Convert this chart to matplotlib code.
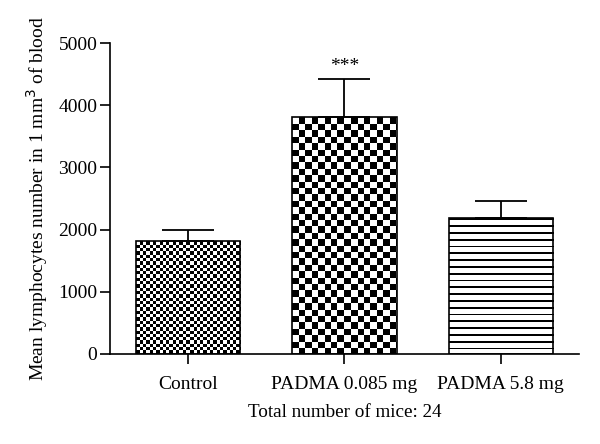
import matplotlib
matplotlib.use("Agg")
import matplotlib.pyplot as plt
import numpy as np

# data
groups = ["Control", "PADMA 0.085 mg", "PADMA 5.8 mg"]
means = [1817, 3810, 2186]
upper_err = [177, 611, 274]
stars = ["", "***", ""]
y_ticks = [0, 1000, 2000, 3000, 4000, 5000]

plt.rcParams["font.family"] = ["Liberation Serif", "DejaVu Serif"]
plt.rcParams["font.size"] = 14

fig = plt.figure(figsize=(6, 4.44), dpi=100)
ax = fig.add_axes([0.183, 0.203, 0.782, 0.700])

x = np.arange(len(groups))
bar_width = 0.667
bars = ax.bar(x, means, bar_width, color="white", edgecolor="black",
              linewidth=1.2, zorder=2)
ax.errorbar(x, means, yerr=[[0] * len(means), upper_err], fmt="none",
            ecolor="black", elinewidth=1.3, capsize=19, capthick=1.3, zorder=3)

for xi, m, e, s in zip(x, means, upper_err, stars):
    if s:
        ax.text(xi, m + e + 70, s, ha="center", va="bottom", fontsize=14)

ax.set_xlim(-0.5, 2.5)
ax.set_ylim(0, 5000)
ax.set_yticks(y_ticks)
ax.set_xticks(x)
ax.set_xticklabels(groups)
ax.set_ylabel("Mean lymphocytes number in 1 mm$^3$ of blood", fontsize=14, labelpad=6)
ax.set_xlabel("Total number of mice: 24", fontsize=13.8, labelpad=8)
ax.spines["top"].set_visible(False)
ax.spines["right"].set_visible(False)
ax.spines["left"].set_linewidth(1.2)
ax.spines["bottom"].set_linewidth(1.2)
ax.tick_params(axis="y", length=7, width=1.2, pad=2)
ax.tick_params(axis="x", length=7, width=1.2, pad=9)

# fill patterns drawn as images clipped to each bar
def pattern(kind, w_px, h_px):
    cols = np.arange(w_px)[None, :]
    rows = np.arange(h_px)[:, None]
    if kind == "fine":
        return ((cols // 3.3).astype(int) + (rows // 3.3).astype(int)) % 2
    if kind == "coarse":
        return ((cols // 6.4).astype(int) + (rows // 6.4).astype(int)) % 2
    return np.broadcast_to((rows % 6.8) < 1.8, (h_px, w_px)).astype(int)

kinds = ["fine", "coarse", "stripes"]
for bar, kind in zip(bars, kinds):
    x0, y0 = bar.get_x(), bar.get_y()
    x1, y1 = x0 + bar.get_width(), y0 + bar.get_height()
    p0 = ax.transData.transform((x0, y0))
    p1 = ax.transData.transform((x1, y1))
    w_px = int(round(p1[0] - p0[0]))
    h_px = int(round(p1[1] - p0[1]))
    img = pattern(kind, w_px, h_px)
    im = ax.imshow(1 - img, cmap="gray", vmin=0, vmax=1, extent=(x0, x1, y0, y1),
                   origin="upper", aspect="auto", interpolation="nearest", zorder=2.5)
    im.set_clip_path(bar)
    bar.set_facecolor("none")
    bar.set_zorder(2.6)

ax.set_xlim(-0.5, 2.5)
ax.set_ylim(0, 5000)

fig.savefig("out.png", dpi=100)
